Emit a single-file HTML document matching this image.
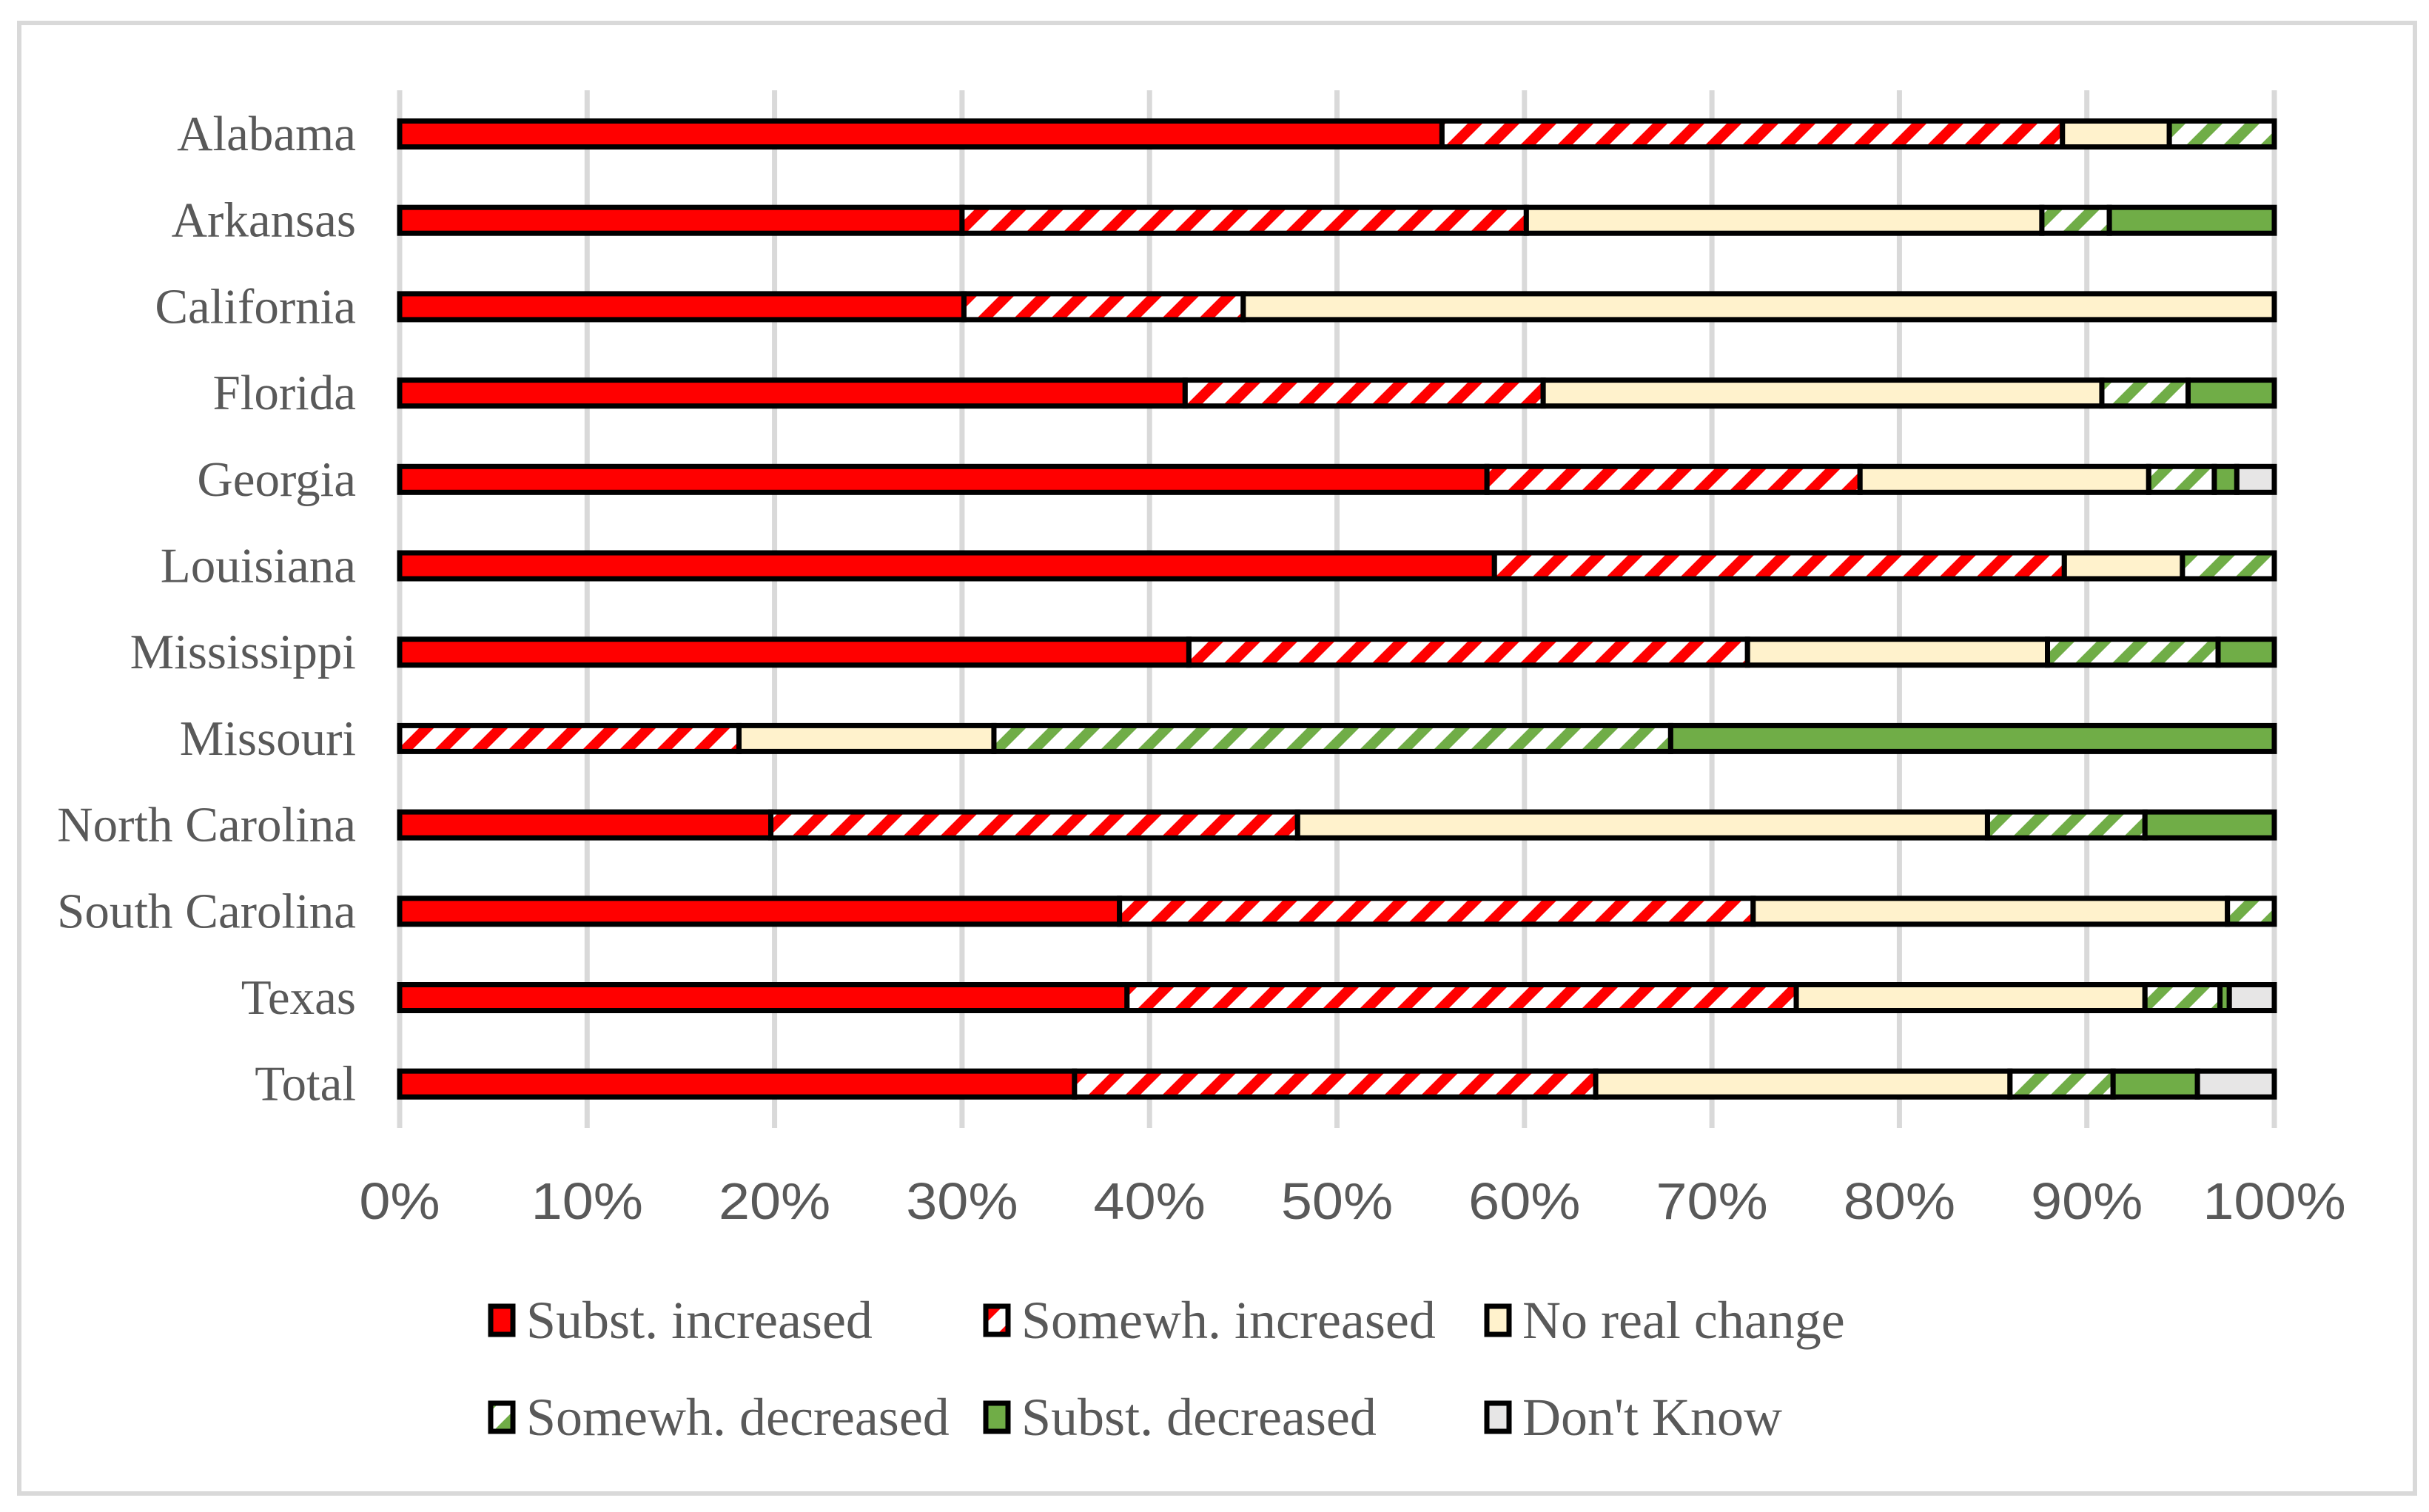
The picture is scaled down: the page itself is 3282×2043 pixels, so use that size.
<!DOCTYPE html>
<html><head><meta charset="utf-8">
<style>
html,body{margin:0;padding:0;background:#fff;}
svg{display:block;}
.cat{font-family:"Liberation Serif",serif;font-size:67px;fill:#595959;}
.tick{font-family:"Liberation Sans",sans-serif;font-size:70px;fill:#595959;}
.leg{font-family:"Liberation Serif",serif;font-size:72px;fill:#595959;}
</style></head>
<body>
<svg id="chart" width="3282" height="2043" viewBox="0 0 3282 2043" xmlns="http://www.w3.org/2000/svg">
<defs>
<pattern id="hatchRed" patternUnits="userSpaceOnUse" width="50" height="50" patternTransform="skewX(-45)">
<rect width="50" height="50" fill="#fff"/><rect x="0" y="0" width="20" height="50" fill="#ff0000"/>
</pattern>
<pattern id="hatchGreen" patternUnits="userSpaceOnUse" width="50" height="50" patternTransform="skewX(-45)">
<rect width="50" height="50" fill="#fff"/><rect x="0" y="0" width="20" height="50" fill="#70ad47"/>
</pattern>
</defs>
<rect x="26" y="31" width="3237" height="1987" fill="#fff" stroke="#d9d9d9" stroke-width="6"/>
<g id="grid"></g>
<g id="bars"></g>
<g id="ylabels"></g>
<g id="xlabels"></g>
<g id="legend"></g>
</svg>
<script>
const categories = ["Alabama","Arkansas","California","Florida","Georgia","Louisiana","Mississippi","Missouri","North Carolina","South Carolina","Texas","Total"];
const seriesNames = ["Subst. increased","Somewh. increased","No real change","Somewh. decreased","Subst. decreased","Don't Know"];
const substIncreased = [55.6,30,30.1,41.9,58,58.4,42.1,0,19.8,38.4,38.8,36];
const somewhIncreased = [33.1,30.1,14.9,19.1,19.9,30.4,29.8,18.1,28.1,33.8,35.7,27.8];
const noRealChange = [5.7,27.5,55,29.8,15.4,6.3,16,13.6,36.8,25.3,18.6,22.1];
const somewhDecreased = [5.6,3.6,0,4.6,3.5,4.9,9.1,36.1,8.4,2.5,4,5.5];
const substDecreased = [0,8.8,0,4.6,1.2,0,3,32.2,6.9,0,0.5,4.5];
const dontKnow = [0,0,0,0,2,0,0,0,0,0,2.4,4.1];
const xTicks = [0,10,20,30,40,50,60,70,80,90,100];
const xTickLabels = ["0%","10%","20%","30%","40%","50%","60%","70%","80%","90%","100%"];

const series = [substIncreased,somewhIncreased,noRealChange,somewhDecreased,substDecreased,dontKnow];
const fills = ["#ff0000","url(#hatchRed)","#fff2cc","url(#hatchGreen)","#70ad47","#e7e6e6"];
const NS="http://www.w3.org/2000/svg";
const X0=540, X1=3073, Y0=181, STEP=116.7, BH=35;
const xs = v => X0 + (X1-X0)*v/100;
const ys = i => Y0 + STEP*i;
function mk(tag, attrs, parent){const e=document.createElementNS(NS,tag);for(const k in attrs)e.setAttribute(k,attrs[k]);parent.appendChild(e);return e;}

const grid=document.getElementById('grid');
xTicks.forEach((t,i)=>{
  const l=mk('line',{x1:xs(t),x2:xs(t),y1:122,y2:1524,stroke:'#d9d9d9','stroke-width':7},grid);
  
  
  const tx=mk('text',{x:0,y:0,'text-anchor':'middle',class:'tick',transform:'translate('+xs(t)+',1647) scale(1.08,1)'},document.getElementById('xlabels'));
  tx.textContent=xTickLabels[i];
  
  
});

const bars=document.getElementById('bars');
categories.forEach((c,i)=>{
  const g=mk('g',{},bars);
  
  
  let acc=0;
  const y=ys(i)-BH/2;
  series.forEach((s,j)=>{
    const v=s[i];
    if(v>0){
      const r=mk('rect',{x:xs(acc),y:y,width:xs(acc+v)-xs(acc),height:BH,fill:fills[j],stroke:'#000','stroke-width':7},g);
      
      
    }
    acc+=v;
  });
  const t=mk('text',{x:481,y:ys(i)+22,'text-anchor':'end',class:'cat'},document.getElementById('ylabels'));
  t.textContent=c;
  
  
});

const legend=document.getElementById('legend');
const legPos=[[659,1784],[1328,1784],[2005,1784],[659,1915],[1328,1915],[2005,1915]];
seriesNames.forEach((n,j)=>{
  const g=mk('g',{},legend);
  
  
  const [lx,ly]=legPos[j];
  mk('rect',{x:lx+4,y:ly-19,width:30,height:38,fill:fills[j],stroke:'#000','stroke-width':7},g);
  const t=mk('text',{x:lx+52,y:ly+24,class:'leg'},g);
  t.textContent=n;
});
</script>
</body></html>
